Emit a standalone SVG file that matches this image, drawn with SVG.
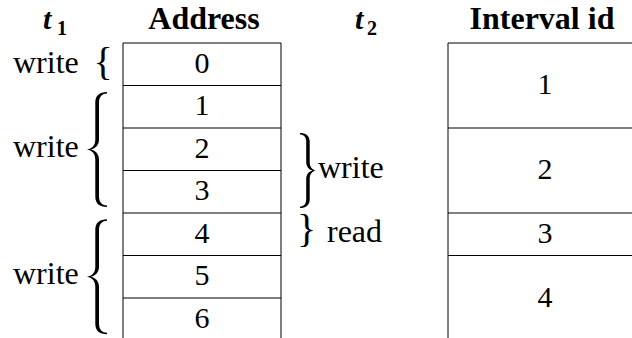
<svg xmlns="http://www.w3.org/2000/svg" width="632" height="338" viewBox="0 0 632 338">
  <defs>
    <style>
      .bg { fill: #ffffff; }
      .cell { fill: none; stroke: #000; stroke-width: 1; }
      .big { fill: #000; stroke: none; }
    </style>
    <!-- tall left brace, tip at the origin -->
    <path id="braceTall" d="M20,-57.5 C12.5,-57.5 8.3,-54 8.3,-47 L8.3,-10 C8.3,-4 5,-0.7 0,0 C5,0.7 8.3,4 8.3,10 L8.3,47 C8.3,54 12.5,57.5 20,57.5 L20,56 C15.5,56 12,53 12,47 L12,10 C12,4.5 8.5,1 4,0 C8.5,-1 12,-4.5 12,-10 L12,-47 C12,-53 15.5,-56 20,-56 Z"/>
    <!-- medium brace, tip at the origin -->
    <path id="braceMid" d="M16,-37.5 C10.5,-37.5 6.3,-35 6.3,-29 L6.3,-9 C6.3,-3.5 4,-0.7 0,0 C4,0.7 6.3,3.5 6.3,9 L6.3,29 C6.3,35 10.5,37.5 16,37.5 L16,36 C12.5,36 9.8,33.5 9.8,29 L9.8,9 C9.8,4 7.5,1 3.5,0 C7.5,-1 9.8,-4 9.8,-9 L9.8,-29 C9.8,-33.5 12.5,-36 16,-36 Z"/>
  </defs>

  <rect class="bg" x="0" y="0" width="632" height="338"/>

  <!-- column headings -->
  <g id="headers" font-family="Liberation Serif" font-weight="bold">
    <text font-style="italic" font-size="30" x="43" y="29">t</text>
    <text font-size="20" x="57" y="35">1</text>
    <text font-size="32" text-anchor="middle" x="204" y="29">Address</text>
    <text font-style="italic" font-size="30" x="355" y="29">t</text>
    <text font-size="20" x="367" y="35">2</text>
    <text font-size="32" text-anchor="middle" x="542" y="29">Interval id</text>
  </g>

  <!-- address column -->
  <g id="address" font-family="Liberation Serif" font-size="30" text-anchor="middle">
    <g id="addr-0"><path class="cell" d="M123,43 H281"/><text x="202" y="72.75">0</text></g>
    <g id="addr-1"><path class="cell" d="M123,85.5 H281"/><text x="202" y="115.25">1</text></g>
    <g id="addr-2"><path class="cell" d="M123,128 H281"/><text x="202" y="157.75">2</text></g>
    <g id="addr-3"><path class="cell" d="M123,170.5 H281"/><text x="202" y="200.25">3</text></g>
    <g id="addr-4"><path class="cell" d="M123,213 H281"/><text x="202" y="242.75">4</text></g>
    <g id="addr-5"><path class="cell" d="M123,255.5 H281"/><text x="202" y="285.25">5</text></g>
    <g id="addr-6"><path class="cell" d="M123,298 H281"/><text x="202" y="327.75">6</text></g>
    <path class="cell" d="M123,43 V338 M281,43 V338"/>
  </g>

  <!-- interval column -->
  <g id="intervals" font-family="Liberation Serif" font-size="30" text-anchor="middle">
    <g id="interval-1"><path class="cell" d="M448,43 H640"/><text x="545" y="94">1</text></g>
    <g id="interval-2"><path class="cell" d="M448,128 H640"/><text x="545" y="179">2</text></g>
    <g id="interval-3"><path class="cell" d="M448,213 H640"/><text x="545" y="242.75">3</text></g>
    <g id="interval-4"><path class="cell" d="M448,255.5 H640"/><text x="545" y="306.5">4</text></g>
    <path class="cell" d="M448,43 V338"/>
  </g>

  <!-- accesses by t1 -->
  <g id="t1-accesses" font-family="Liberation Serif" font-size="32">
    <g id="t1-write-0">
      <text x="13" y="73">write</text>
      <text font-size="40" text-anchor="middle" x="103" y="75">{</text>
    </g>
    <g id="t1-write-1-3">
      <text x="13" y="157">write</text>
      <use href="#braceTall" class="big" transform="translate(87,149.5)"/>
    </g>
    <g id="t1-write-4-6">
      <text x="13" y="284">write</text>
      <use href="#braceTall" class="big" transform="translate(87,276.75)"/>
    </g>
  </g>

  <!-- accesses by t2 -->
  <g id="t2-accesses" font-family="Liberation Serif" font-size="32">
    <g id="t2-write-2-3">
      <use href="#braceMid" class="big" transform="translate(316,170.5) scale(-1,1)"/>
      <text x="318" y="178">write</text>
    </g>
    <g id="t2-read-4">
      <text font-size="40" text-anchor="middle" x="306.5" y="242">}</text>
      <text x="327" y="242">read</text>
    </g>
  </g>
</svg>
